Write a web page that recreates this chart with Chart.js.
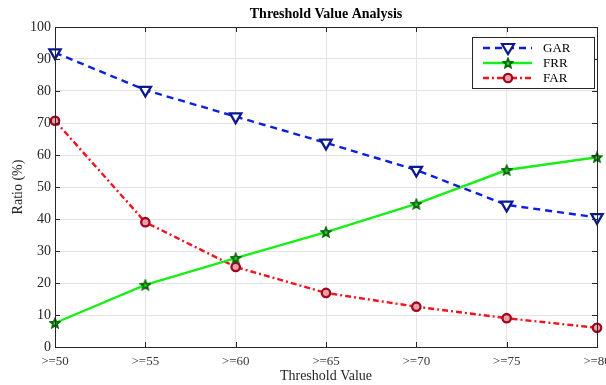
<!DOCTYPE html>
<html>
<head>
<meta charset="utf-8">
<script src="https://cdn.jsdelivr.net/npm/chart.js@4"></script>
<style>
  html, body { margin: 0; padding: 0; background: #fff; }
  #wrap { width: 606px; height: 385px; }
</style>
</head>
<body>
<div id="wrap"><canvas id="thresholdChart" width="606" height="385"></canvas></div>
<script>
// threshold categories
const thresholds = [">=50", ">=55", ">=60", ">=65", ">=70", ">=75", ">=80"];

// series values (%)
const garValues = [92, 80.3, 72, 63.8, 55.3, 44.4, 40.5];
const frrValues = [7.5, 19.4, 27.8, 35.9, 44.7, 55.3, 59.3];
const farValues = [70.7, 39, 25, 16.9, 12.6, 9, 6];

const seriesNames = ["GAR", "FRR", "FAR"];
const chartTitle = "Threshold Value Analysis";

// y tick range
const yMin = 0;
const yMax = 100;
const yStep = 10;

const serif = "'Liberation Serif', 'Times New Roman', serif";

// five pointed star marker, drawn once and reused as a point style
function makeStar(size, fill, stroke)
{
    const c = document.createElement("canvas");
    c.width = size;
    c.height = size;
    const g = c.getContext("2d");
    const cx = size / 2, cy = size / 2 + 0.5;
    const outer = size / 2 - 1.2, inner = outer * 0.45;
    g.beginPath();
    for (let i = 0; i < 10; i++)
    {
        const r = i % 2 === 0 ? outer : inner;
        const a = -Math.PI / 2 + i * Math.PI / 5;
        const px = cx + r * Math.cos(a), py = cy + r * Math.sin(a);
        if (i === 0) g.moveTo(px, py); else g.lineTo(px, py);
    }
    g.closePath();
    g.fillStyle = fill;
    g.fill();
    g.lineWidth = 1.8;
    g.strokeStyle = stroke;
    g.stroke();
    return c;
}

const starMarker = makeStar(12, "#33cc33", "#0a6a0a");
const starLegend = makeStar(12, "#33cc33", "#0a6a0a");

const styles = [
    { line: "#0b1fe0", dash: [7, 5], marker: "#0a1a8c", fill: "#ffffff", pointStyle: "triangle", rot: 180, r: 6.5 },
    { line: "#19ee19", dash: [], marker: "#0a6a0a", fill: "#33cc33", pointStyle: starMarker, rot: 0, r: 6 },
    { line: "#f0141e", dash: [6, 3, 2, 3], marker: "#a1051e", fill: "#e8a0a8", pointStyle: "circle", rot: 0, r: 4.2 }
];

const allValues = [garValues, frrValues, farValues];

const datasets = seriesNames.map(function (name, i)
{
    const s = styles[i];
    return {
        label: name,
        data: allValues[i],
        borderColor: s.line,
        borderWidth: 2.4,
        borderDash: s.dash,
        pointStyle: s.pointStyle,
        pointRotation: s.rot,
        pointRadius: s.r,
        pointBorderWidth: 2.3,
        pointBorderColor: s.marker,
        pointBackgroundColor: s.fill,
        tension: 0,
        fill: false,
        clip: false
    };
});

// MATLAB style frame: title over the plot, box, inward ticks, boxed legend
const framePlugin = {
    id: "frame",
    afterDatasetsDraw(chart)
    {
        const ctx = chart.ctx;
        const a = chart.chartArea;
        const xs = chart.scales.x;
        const ys = chart.scales.y;
        ctx.save();

        ctx.fillStyle = "#000000";
        ctx.font = "bold 14px " + serif;
        ctx.textAlign = "center";
        ctx.textBaseline = "middle";
        ctx.fillText(chartTitle, (a.left + a.right) / 2, 14);

        ctx.strokeStyle = "#262626";
        ctx.lineWidth = 1;
        ctx.strokeRect(a.left + 0.5, a.top + 0.5, a.right - a.left, a.bottom - a.top);

        const tick = 5;
        ctx.beginPath();
        for (let i = 0; i < thresholds.length; i++)
        {
            const px = Math.round(xs.getPixelForValue(i)) + 0.5;
            ctx.moveTo(px, a.bottom);
            ctx.lineTo(px, a.bottom - tick);
            ctx.moveTo(px, a.top);
            ctx.lineTo(px, a.top + tick);
        }
        for (let v = yMin; v <= yMax; v += yStep)
        {
            const py = Math.round(ys.getPixelForValue(v)) + 0.5;
            ctx.moveTo(a.left, py);
            ctx.lineTo(a.left + tick, py);
            ctx.moveTo(a.right, py);
            ctx.lineTo(a.right - tick, py);
        }
        ctx.stroke();

        // legend box
        const bx = 472, by = 37, bw = 122, bh = 51;
        ctx.fillStyle = "#ffffff";
        ctx.fillRect(bx, by, bw, bh);
        ctx.strokeStyle = "#262626";
        ctx.strokeRect(bx + 0.5, by + 0.5, bw, bh);
        ctx.font = "13px " + serif;
        ctx.textBaseline = "middle";
        ctx.textAlign = "left";
        for (let i = 0; i < seriesNames.length; i++)
        {
            const s = styles[i];
            const ly = by + 11 + i * 15;
            ctx.beginPath();
            ctx.setLineDash(s.dash);
            ctx.strokeStyle = s.line;
            ctx.lineWidth = 2.4;
            ctx.moveTo(483, ly);
            ctx.lineTo(532, ly);
            ctx.stroke();
            ctx.setLineDash([]);
            if (i === 1)
            {
                ctx.drawImage(starLegend, 508 - 6, ly - 6);
            }
            else
            {
                ctx.fillStyle = s.fill;
                ctx.strokeStyle = s.marker;
                ctx.lineWidth = 2.2;
                ctx.beginPath();
                if (i === 0)
                {
                    ctx.moveTo(508 - 6, ly - 4);
                    ctx.lineTo(508 + 6, ly - 4);
                    ctx.lineTo(508, ly + 6);
                    ctx.closePath();
                }
                else
                {
                    ctx.arc(508, ly, 4.2, 0, Math.PI * 2);
                }
                ctx.fill();
                ctx.stroke();
            }
            ctx.fillStyle = "#000000";
            ctx.fillText(seriesNames[i], 543, ly + 1);
        }
        ctx.restore();
    }
};

const ctx = document.getElementById("thresholdChart").getContext("2d");

new Chart(ctx, {
    type: "line",
    data: {
        labels: thresholds,
        datasets: datasets
    },
    options: {
        responsive: false,
        animation: false,
        layout: {
            padding: { left: 0, right: 9, top: 27, bottom: 0 }
        },
        plugins: {
            legend: { display: false },
            tooltip: { enabled: false },
            title: { display: false }
        },
        scales: {
            x: {
                type: "category",
                offset: false,
                grid: { color: "#e3e3e3", drawTicks: false },
                border: { display: false },
                ticks: {
                    color: "#3a3a3a",
                    font: { family: serif, size: 13 },
                    padding: 7,
                    maxRotation: 0,
                    autoSkip: false
                },
                title: {
                    display: true,
                    text: "Threshold Value",
                    color: "#262626",
                    font: { family: serif, size: 14 },
                    padding: { top: 0, bottom: 0 }
                },
                afterFit(scale)
                {
                    scale.height = 38;
                    scale.paddingLeft = 0;
                    scale.paddingRight = 0;
                }
            },
            y: {
                min: yMin,
                max: yMax,
                grid: { color: "#e3e3e3", drawTicks: false },
                border: { display: false },
                ticks: {
                    stepSize: yStep,
                    color: "#262626",
                    font: { family: serif, size: 14 },
                    padding: 4
                },
                title: {
                    display: true,
                    text: "Ratio (%)",
                    color: "#262626",
                    font: { family: serif, size: 14 },
                    padding: { top: 10, bottom: 0 }
                },
                afterFit(scale)
                {
                    scale.width = 55;
                    scale.paddingTop = 0;
                    scale.paddingBottom = 0;
                }
            }
        }
    },
    plugins: [framePlugin]
});
</script>
</body>
</html>
